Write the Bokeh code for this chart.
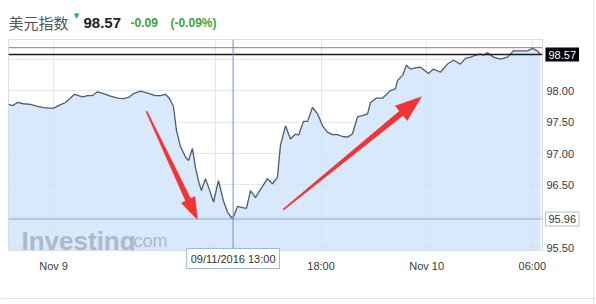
from bokeh.plotting import figure
from bokeh.models import Range1d, Span, Label, FixedTicker
from bokeh.embed import file_html
from bokeh.resources import INLINE
import numpy as np

# ---------------- data ----------------
# hours since Nov 9 00:00 (chart time scale)
hours = [0.24, 0.47, 0.75, 1.09, 1.49, 1.89, 2.23, 2.51, 2.80, 3.08,
         3.48, 3.76, 3.99, 4.22, 4.44, 4.73, 5.01, 5.30, 5.64, 6.03,
         6.43, 6.77, 7.06, 7.34, 7.74, 8.14, 8.59, 8.88, 9.16, 9.39,
         9.61, 9.78, 10.01, 10.30, 10.47, 10.69, 10.86, 11.03, 11.20, 11.43,
         11.60, 11.89, 12.17, 12.45, 12.68, 12.97, 13.25, 13.53, 13.76, 13.99,
         14.27, 14.56, 14.95, 15.24, 15.52, 15.69, 15.98, 16.26, 16.55, 16.72,
         17.00, 17.23, 17.51, 17.80, 18.08, 18.36, 18.65, 18.93, 19.22, 19.50,
         19.78, 20.07, 20.35, 20.64, 20.81, 21.15, 21.49, 21.77, 21.94, 22.23,
         22.34, 22.63, 22.85, 23.08, 23.36, 23.65, 24.10, 24.39, 24.78, 25.18,
         25.52, 25.92, 26.20, 26.49, 26.77, 27.06, 27.23, 27.45, 27.80, 28.19,
         28.59, 28.93, 29.33, 29.73, 30.01, 30.30, 30.47]
values = [97.78, 97.76, 97.81, 97.79, 97.78, 97.75, 97.73, 97.72, 97.72, 97.76,
          97.81, 97.88, 97.94, 97.92, 97.90, 97.92, 97.92, 97.98, 97.95, 97.91,
          97.88, 97.87, 97.89, 97.95, 97.99, 97.96, 97.92, 97.92, 97.94, 97.87,
          97.75, 97.37, 97.11, 96.94, 96.89, 97.08, 96.78, 96.57, 96.41, 96.60,
          96.47, 96.23, 96.57, 96.25, 96.07, 95.96, 96.16, 96.14, 96.13, 96.41,
          96.30, 96.43, 96.60, 96.52, 96.62, 97.13, 97.44, 97.23, 97.31, 97.29,
          97.51, 97.51, 97.73, 97.63, 97.44, 97.34, 97.30, 97.30, 97.27, 97.26,
          97.31, 97.58, 97.60, 97.63, 97.81, 97.88, 97.88, 97.95, 98.00, 98.03,
          98.16, 98.24, 98.40, 98.34, 98.36, 98.37, 98.27, 98.34, 98.29, 98.42,
          98.48, 98.42, 98.51, 98.53, 98.56, 98.58, 98.56, 98.60, 98.53, 98.50,
          98.53, 98.63, 98.63, 98.63, 98.67, 98.63, 98.57]

x_ticks = [2.8, 12, 18, 24, 30]
x_tick_labels = ["Nov 9", "", "18:00", "Nov 10", "06:00"]
y_ticks = [95.5, 96, 96.5, 97, 97.5, 98, 98.5]
y_tick_labels = ["95.50", "", "96.50", "97.00", "97.50", "98.00", ""]

last_price = 98.57
session_high = 98.68
session_low = 95.96
cross_hour = 13
cross_text = "09/11/2016 13:00"

title_name = "美元指数"
title_price = "98.57"
title_change = "-0.09"
title_pct = "(-0.09%)"

# hand-drawn red arrows (tail -> tip)
arrow_tail_x = [8.08, 15.86]
arrow_tail_y = [97.67, 96.11]
arrow_tip_x = [10.98, 23.70]
arrow_tip_y = [95.95, 97.90]

# ---------------- layout ----------------
W, H = 596, 304
FL, FT, FW, FH = 8, 39, 534, 211
X0, X1 = 0.24, 30.58
Y0, Y1 = 95.46, 98.81
SX = FW / (X1 - X0)
SY = FH / (Y1 - Y0)


def cx(px):
    return X0 + (px - FL) / SX


def cy(py):
    return Y0 + (FT + FH - py) / SY


FONT = "Liberation Sans"

p = figure(frame_width=FW, frame_height=FH,
           min_border_left=FL, min_border_right=W - FL - FW,
           min_border_top=FT, min_border_bottom=H - FT - FH,
           x_range=Range1d(X0, X1), y_range=Range1d(Y0, Y1),
           y_axis_location="right",
           output_backend="svg", toolbar_location=None,
           background_fill_color="white", border_fill_color="white",
           outline_line_color="#dadde2")

p.xaxis.ticker = FixedTicker(ticks=x_ticks)
p.xaxis.major_label_overrides = {t: l for t, l in zip(x_ticks, x_tick_labels)}
p.yaxis.ticker = FixedTicker(ticks=y_ticks)
p.yaxis.major_label_overrides = {t: l for t, l in zip(y_ticks, y_tick_labels)}
for ax in (p.xaxis[0], p.yaxis[0]):
    ax.axis_line_color = None
    ax.major_tick_line_color = None
    ax.minor_tick_line_color = None
    ax.major_tick_out = 0
    ax.major_tick_in = 0
    ax.minor_tick_out = 0
    ax.minor_tick_in = 0
    ax.major_label_text_font = FONT
    ax.major_label_text_font_size = "11px"
    ax.major_label_text_color = "#3a3a3a"
p.xaxis.major_label_standoff = 9
p.yaxis.major_label_standoff = 4

p.xgrid.ticker = FixedTicker(ticks=x_ticks)
p.ygrid.ticker = FixedTicker(ticks=y_ticks)
p.grid.grid_line_color = "#e2e7ee"
p.grid.grid_line_width = 1

# area + line
p.varea(x=hours, y1=Y0, y2=values, fill_color="#cfe3fb", fill_alpha=0.8)
p.line(hours, values, line_color="#4e5a71", line_width=1.3)

# watermark
p.add_layout(Label(x=cx(21), y=cy(240), text="Investing", text_font=FONT,
                   text_font_style="bold", text_font_size="26px",
                   text_color="#adb9c7", text_baseline="alphabetic"))
p.add_layout(Label(x=cx(128), y=cy(240), text=".com", text_font=FONT,
                   text_font_size="18px", text_color="#adb9c7",
                   text_baseline="alphabetic"))

# reference lines
p.add_layout(Span(location=session_high, dimension="width", line_color="#e25a5a", line_width=1))
p.add_layout(Span(location=last_price, dimension="width", line_color="#1b1b1b", line_width=1.5))
p.add_layout(Span(location=session_low, dimension="width", line_color="#88a6cf", line_width=1))
p.add_layout(Span(location=cross_hour, dimension="height", line_color="#6f92cf", line_width=1))

# arrows (tapered polygons built in pixel space)
xs_all, ys_all = [], []
for tx, ty, hx, hy, hl, hw in zip(arrow_tail_x, arrow_tail_y, arrow_tip_x, arrow_tip_y,
                                  [22, 26], [15, 19]):
    t = np.array([(tx - X0) * SX, (ty - Y0) * SY])
    h = np.array([(hx - X0) * SX, (hy - Y0) * SY])
    d = (h - t) / np.linalg.norm(h - t)
    n = np.array([-d[1], d[0]])
    b = h - d * hl
    pts = [t + n * 0.6, b + n * 2.8, b + n * hw / 2, h, b - n * hw / 2, b - n * 2.8, t - n * 0.6]
    xs_all.append([X0 + q[0] / SX for q in pts])
    ys_all.append([Y0 + q[1] / SY for q in pts])
p.patches(xs_all, ys_all, fill_color="#ef3434", line_color="#ef3434", line_width=0.5)

# ---------------- transparent overlay (separate root) for texts outside the plot frame ----------------
ov = figure(width=W, height=H, min_border=0,
            min_border_left=0, min_border_right=0, min_border_top=0, min_border_bottom=0,
            x_range=Range1d(cx(0), cx(W)), y_range=Range1d(cy(H), cy(0)),
            x_axis_type=None, y_axis_type=None,
            output_backend="svg", toolbar_location=None,
            background_fill_color=None, border_fill_color=None,
            outline_line_color=None,
            styles={"position": "absolute", "top": "0px", "left": "0px"})
ov.grid.visible = False

# container borders
ov.add_layout(Span(location=cy(298), dimension="width", line_color="#e2e2e2", line_width=1))
ov.add_layout(Span(location=cx(593), dimension="height", line_color="#e6e6e6", line_width=1))

# price tags on the right
ov.add_layout(Label(x=cx(545), y=last_price, text=title_price, text_font=FONT,
                    text_font_size="11px", text_color="white", text_align="left",
                    text_baseline="middle", background_fill_color="black",
                    padding=3))
ov.add_layout(Label(x=cx(545), y=session_low, text=f"{session_low:.2f}", text_font=FONT,
                    text_font_size="11px", text_color="#333333", text_align="left",
                    text_baseline="middle", background_fill_color="white",
                    border_line_color="#a9bfdd", padding=3))

# crosshair time tag
ov.add_layout(Label(x=cross_hour, y=cy(258), text=cross_text, text_font=FONT,
                    text_font_size="11px", text_color="#333333", text_align="center",
                    text_baseline="middle", background_fill_color="white",
                    border_line_color="#9fb8da", padding=4))

# header
ov.add_layout(Label(x=cx(8), y=cy(22), text=title_name, text_font="Noto Sans CJK SC",
                    text_font_size="15px", text_color="#555555", text_baseline="middle"))
ov.add_layout(Label(x=cx(76), y=cy(15), text="▼", text_font="DejaVu Sans",
                    text_font_size="7px", text_color="#2aa84a", text_align="center",
                    text_baseline="middle"))
ov.add_layout(Label(x=cx(83), y=cy(22), text=title_price, text_font=FONT,
                    text_font_style="bold", text_font_size="15px", text_color="#222222",
                    text_baseline="middle"))
ov.add_layout(Label(x=cx(130), y=cy(22), text=title_change, text_font=FONT,
                    text_font_style="bold", text_font_size="12px", text_color="#3aa53a",
                    text_baseline="middle"))
ov.add_layout(Label(x=cx(170), y=cy(22), text=title_pct, text_font=FONT,
                    text_font_style="bold", text_font_size="12px", text_color="#3aa53a",
                    text_baseline="middle"))

open("out.html", "w").write(file_html([p, ov], INLINE))
